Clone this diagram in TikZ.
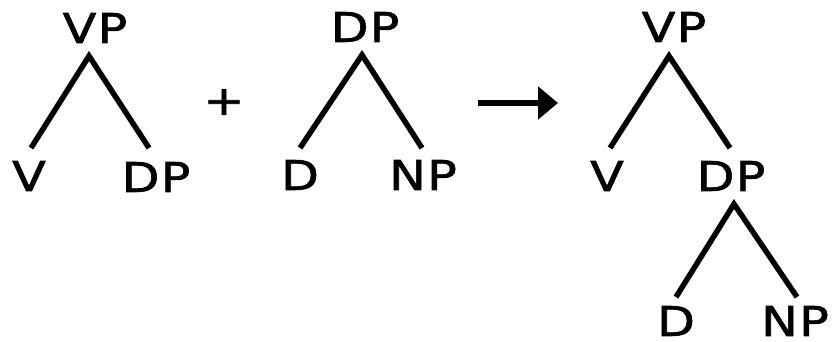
\documentclass[tikz,border=0pt]{standalone}
\usepackage{fontspec}
\setmainfont{DejaVu Sans}[LetterSpace=3,FakeStretch=1.2,FakeBold=1.5]
\usetikzlibrary{arrows.meta}
\begin{document}
\begin{tikzpicture}[x=1pt,y=-1pt,
  lbl/.style={inner sep=0pt,anchor=center,font=\fontsize{41}{48}\selectfont},
  edge/.style={line width=5.5pt,line join=miter,line cap=butt}]
\useasboundingbox (0,0) rectangle (834,342);
% tree 1
\node[lbl] (vp1) at (95,28) {VP};
\node[lbl] (v1) at (29,176) {V};
\node[lbl] (dp1) at (156,177) {DP};
\draw[edge] ([shift={(2,-28)}]v1.center) -- ([shift={(-6,28)}]vp1.center) -- ([shift={(-7,-29)}]dp1.center);
% plus
\node[lbl] (plus) at (224,102) {+};
% tree 2
\node[lbl] (dp2) at (365,27) {DP};
\node[lbl] (d2) at (300,175) {D};
\node[lbl] (np2) at (423,175) {NP};
\draw[edge] ([shift={(0,-27)}]d2.center) -- ([shift={(-3,28)}]dp2.center) -- ([shift={(-1,-27)}]np2.center);
% arrow
\coordinate (as) at (478,103);
\coordinate (ae) at (558,103);
\draw[line width=5.5pt,-{Triangle[length=20pt,width=32pt]}] (as) -- (ae);
% tree 3
\node[lbl] (vp3) at (674,27) {VP};
\node[lbl] (v3) at (607,176) {V};
\node[lbl] (dp3) at (731,176) {DP};
\node[lbl] (d3) at (676,321) {D};
\node[lbl] (np3) at (795,321) {NP};
\draw[edge] ([shift={(0,-24)}]d3.center) -- ([shift={(3,28)}]dp3.center) -- ([shift={(2,-24)}]np3.center);
\draw[edge] ([shift={(3,-28)}]v3.center) -- ([shift={(-5,29)}]vp3.center) -- ([shift={(-1,-28)}]dp3.center);
\end{tikzpicture}
\end{document}
